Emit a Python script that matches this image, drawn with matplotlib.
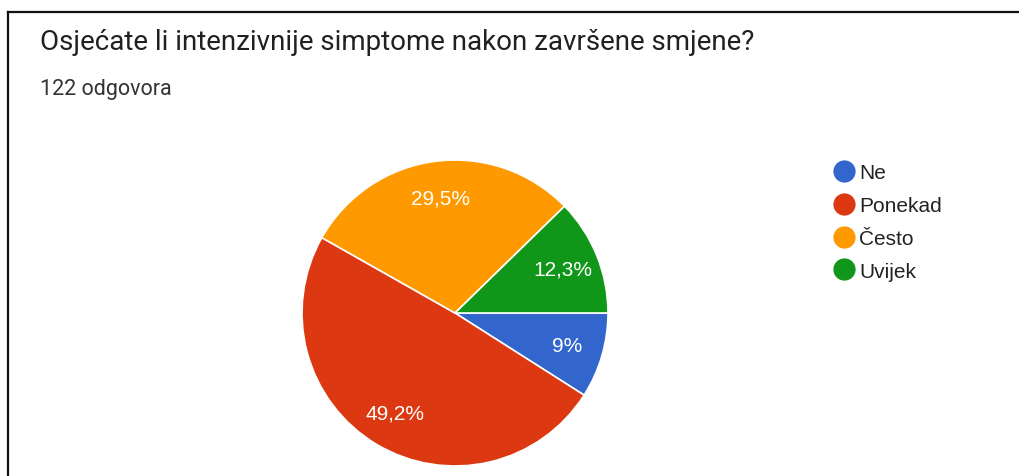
import matplotlib
matplotlib.use("Agg")
import matplotlib.pyplot as plt
from matplotlib.lines import Line2D

categories = ["Ne", "Ponekad", "Često", "Uvijek"]
counts = [11, 60, 36, 15]
colors = ["#3366CC", "#DC3912", "#FF9900", "#109618"]
title = "Osjećate li intenzivnije simptome nakon završene smjene?"
subtitle = "122 odgovora"

plt.rcParams['font.family'] = ['Roboto', 'DejaVu Sans']

W, H = 1019, 477
fig = plt.figure(figsize=(W / 100, H / 100), dpi=100)
fig.patch.set_facecolor("white")

# screenshot frame lines
fig.add_artist(Line2D([8 / W, 1.0], [1 - 13 / H, 1 - 13 / H], color="#111111", lw=1.6))
fig.add_artist(Line2D([8 / W, 8 / W], [0, 1 - 13 / H], color="#111111", lw=1.6))

fig.text(40 / W, 1 - 42 / H, title, fontsize=20, color="#202124", va="center", ha="left")
fig.text(40 / W, 1 - 89 / H, subtitle, fontsize=15.5, color="#333333", va="center", ha="left")

cx, cy, r = 455, 314, 153
ax = fig.add_axes([(cx - r) / W, (H - cy - r) / H, 2 * r / W, 2 * r / H])


def fmt(p):
    s = f"{p:.1f}"
    if s.endswith(".0"):
        s = s[:-2]
    return s.replace(".", ",") + "%"


wedges, texts, autotexts = ax.pie(
    counts, colors=colors, startangle=0, counterclock=False,
    autopct=fmt, pctdistance=0.76,
    wedgeprops=dict(edgecolor="white", linewidth=1.2),
    textprops=dict(color="white", fontsize=15, family=["Liberation Sans", "DejaVu Sans"]),
)
ax.set_xlim(-1, 1)
ax.set_ylim(-1, 1)
ax.set_aspect("equal")
ax.axis("off")

handles = [Line2D([0], [0], marker="o", linestyle="", markersize=15,
                  markerfacecolor=c, markeredgecolor=c) for c in colors]
leg = fig.legend(handles, categories, loc="upper left",
                 bbox_to_anchor=(824 / W, 1 - 156 / H), frameon=False,
                 prop=dict(family=["Liberation Sans", "DejaVu Sans"], size=15),
                 handletextpad=0.2, labelspacing=0.66,
                 handlelength=1.1, borderaxespad=0)
for t in leg.get_texts():
    t.set_color("#222222")

fig.savefig("out.png", dpi=100)
